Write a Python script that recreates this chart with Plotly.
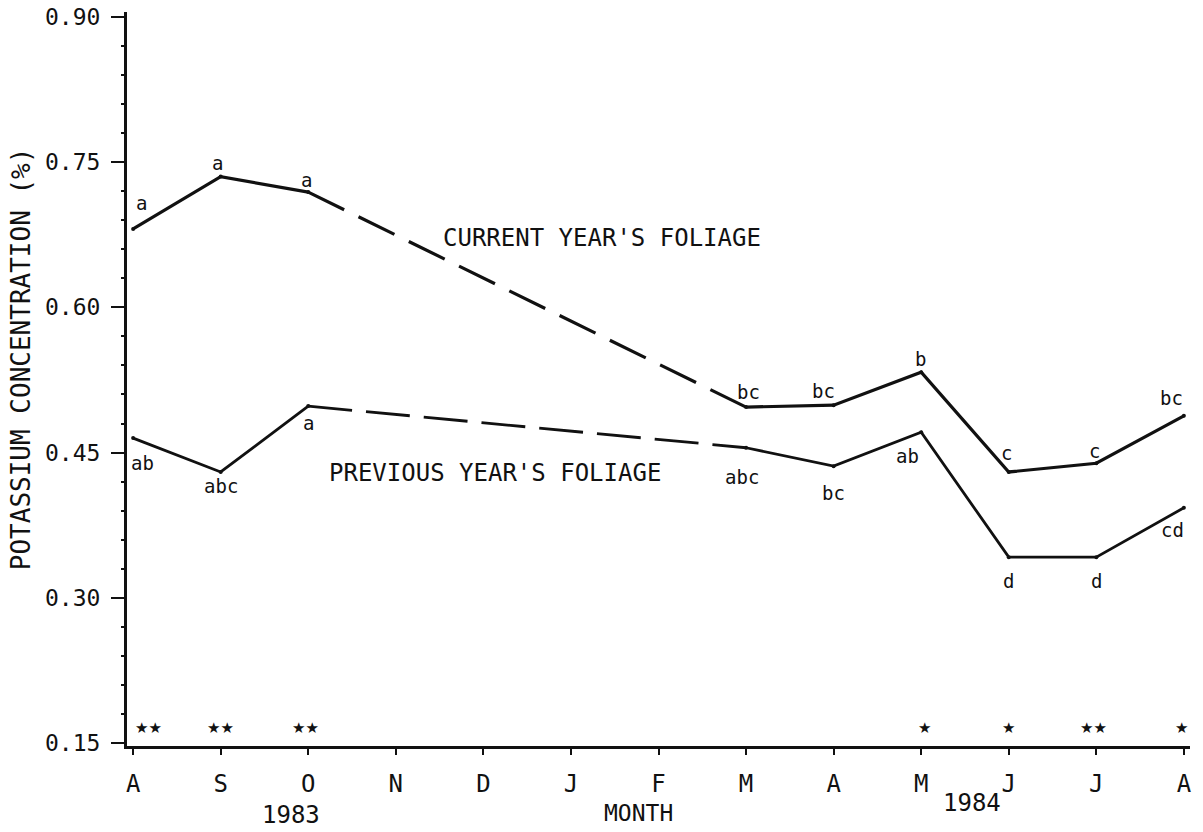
import plotly.graph_objects as go

# Month positions, Aug 1983 .. Aug 1984
months = ["A", "S", "O", "N", "D", "J", "F", "M", "A", "M", "J", "J", "A"]
month_idx = list(range(len(months)))

# Potassium concentration (%) by sampling month (None = not sampled)
current = [0.681, 0.735, 0.719, None, None, None, None, 0.497, 0.499, 0.533, 0.430, 0.439, 0.488]
previous = [0.465, 0.430, 0.498, None, None, None, None, 0.455, 0.436, 0.471, 0.342, 0.342, 0.393]

# Mean-separation letters
current_letters = ["a", "a", "a", "", "", "", "", "bc", "bc", "b", "c", "c", "bc"]
previous_letters = ["ab", "abc", "a", "", "", "", "", "abc", "bc", "ab", "d", "d", "cd"]

# Significance of the difference between the two foliage ages
signif = ["**", "**", "**", "", "", "", "", "", "", "*", "*", "**", "*"]

y_ticks = [0.15, 0.30, 0.45, 0.60, 0.75, 0.90]

FONT = "DejaVu Sans Mono"
INK = "#111111"

fig = go.Figure()


def add_series(values, width, dash_pattern):
    sampled = [i for i, v in enumerate(values) if v is not None]
    first = [i for i in sampled if i <= 2]
    last = [i for i in sampled if i >= 7]
    gap = [first[-1], last[0]]
    for idx, dash in ((first, "solid"), (gap, dash_pattern), (last, "solid")):
        fig.add_trace(go.Scatter(
            x=[month_idx[i] for i in idx],
            y=[values[i] for i in idx],
            mode="lines",
            line=dict(color=INK, width=width, dash=dash),
            hoverinfo="skip",
            showlegend=False,
        ))
    fig.add_trace(go.Scatter(
        x=[month_idx[i] for i in sampled],
        y=[values[i] for i in sampled],
        mode="markers",
        marker=dict(color=INK, size=4),
        hoverinfo="skip",
        showlegend=False,
    ))


add_series(current, 3.2, "40px,16px")
add_series(previous, 2.8, "44px,14px")

# letter label offsets in pixels (right, down) relative to each point
cur_shift = {0: (8, -26), 1: (-3, -14), 2: (-2, -12), 7: (2, -15), 8: (-10, -14),
             9: (-1, -13), 10: (-2, -19), 11: (-2, -12), 12: (-12, -18)}
prev_shift = {0: (9, 25), 1: (0, 14), 2: (0, 17), 7: (-4, 29), 8: (0, 27),
              9: (-14, 24), 10: (0, 24), 11: (0, 24), 12: (-11, 22)}

for values, letters, shifts in ((current, current_letters, cur_shift),
                                 (previous, previous_letters, prev_shift)):
    for i, txt in enumerate(letters):
        if not txt:
            continue
        dx, dy = shifts[i]
        fig.add_annotation(
            x=month_idx[i], y=values[i], xref="x", yref="y",
            text=txt, showarrow=False,
            xshift=dx, yshift=-dy,
            font=dict(family=FONT, size=19, color=INK),
        )

star_shift = {0: 15, 1: 0, 2: -3, 9: 3, 10: 0, 11: -3, 12: -2}
for i, s in enumerate(signif):
    if not s:
        continue
    fig.add_annotation(
        x=month_idx[i], y=0.166, xref="x", yref="y",
        text="★" * len(s), showarrow=False, xshift=star_shift[i],
        font=dict(family="DejaVu Sans", size=15, color=INK),
    )

fig.add_annotation(x=5.35, y=0.672, xref="x", yref="y", showarrow=False,
                   text="CURRENT YEAR'S FOLIAGE",
                   font=dict(family=FONT, size=24, color=INK))
fig.add_annotation(x=4.13, y=0.429, xref="x", yref="y", showarrow=False,
                   text="PREVIOUS YEAR'S FOLIAGE",
                   font=dict(family=FONT, size=24, color=INK))

fig.add_annotation(x=1.8, y=-0.094, xref="x", yref="paper", showarrow=False,
                   xanchor="center", yanchor="middle",
                   text="1983", font=dict(family=FONT, size=24, color=INK))
fig.add_annotation(x=9.58, y=-0.078, xref="x", yref="paper", showarrow=False,
                   xanchor="center", yanchor="middle",
                   text="1984", font=dict(family=FONT, size=24, color=INK))
fig.add_annotation(x=5.77, y=-0.091, xref="x", yref="paper", showarrow=False,
                   xanchor="center", yanchor="middle",
                   text="MONTH", font=dict(family=FONT, size=23, color=INK))
fig.add_annotation(x=-0.099, y=0.528, xref="paper", yref="paper", showarrow=False,
                   xanchor="center", yanchor="middle",
                   text="POTASSIUM CONCENTRATION (%)", textangle=-90,
                   font=dict(family=FONT, size=26, color=INK))

fig.update_xaxes(
    range=[-0.07, 12.07], automargin=False,
    tickmode="array", tickvals=month_idx, ticktext=months,
    showline=True, linecolor=INK, linewidth=3,
    ticks="outside", ticklen=6, tickwidth=2, tickcolor=INK,
    ticklabelstandoff=8,
    tickfont=dict(family=FONT, size=24, color=INK),
    showgrid=False, zeroline=False,
)
fig.update_yaxes(
    range=[0.147, 0.905], automargin=False,
    tickmode="array", tickvals=y_ticks, ticktext=[f"{v:.2f}" for v in y_ticks],
    showline=True, linecolor=INK, linewidth=3,
    ticks="outside", ticklen=13, tickwidth=2, tickcolor=INK,
    ticklabelstandoff=6,
    tickfont=dict(family=FONT, size=23, color=INK),
    minor=dict(tickmode="linear", tick0=0.15, dtick=0.03, ticks="outside",
               ticklen=3, tickwidth=2, tickcolor=INK),
    showgrid=False, zeroline=False,
)

fig.update_layout(
    width=1203, height=832,
    margin=dict(l=127, r=13, t=12, b=86),
    paper_bgcolor="white", plot_bgcolor="white",
    showlegend=False,
)

fig.write_html("out.html")
